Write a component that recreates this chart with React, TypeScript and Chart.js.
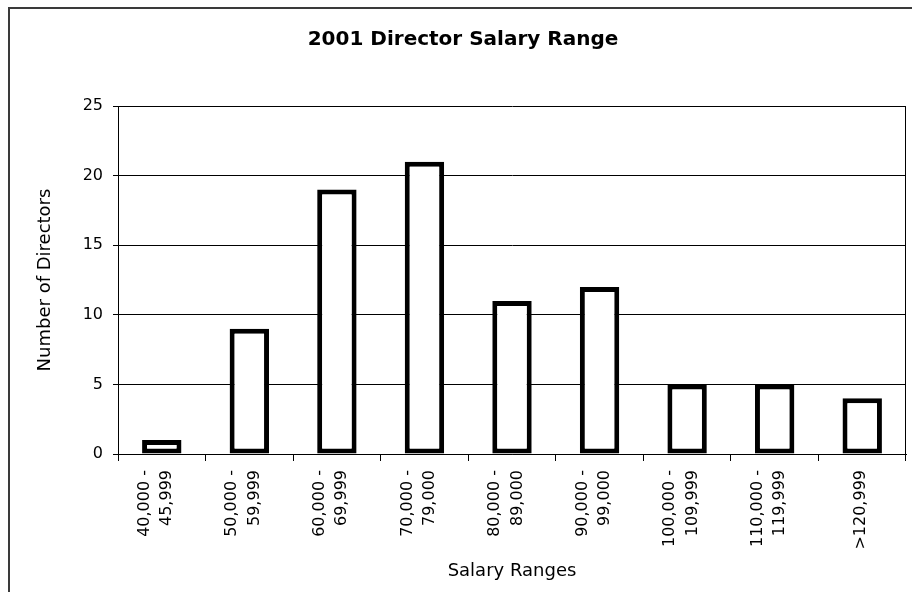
import React, { useEffect, useRef } from "react";
import { Chart, registerables } from "chart.js";

Chart.register(...registerables);

const chartTitle = "2001 Director Salary Range";
const xAxisTitle = "Salary Ranges";
const yAxisTitle = "Number of Directors";

const salaryRanges: string[][] = [
  ["40,000 -", "45,999"],
  ["50,000 -", "59,999"],
  ["60,000 -", "69,999"],
  ["70,000 -", "79,000"],
  ["80,000 -", "89,000"],
  ["90,000 -", "99,000"],
  ["100,000 -", "109,999"],
  ["110,000 -", "119,999"],
  ["", ">120,999"],
];

const directorCounts = [1, 9, 19, 21, 11, 12, 5, 5, 4];

const yMin = 0;
const yMax = 25;
const yStep = 5;

const FONT = "'DejaVu Sans', sans-serif";

export default function App() {
  const ref = useRef<HTMLCanvasElement>(null);

  useEffect(() => {
    const canvas = ref.current;
    if (!canvas) return;
    const chart = new Chart(canvas, {
      type: "bar",
      data: {
        labels: salaryRanges,
        datasets: [
          {
            data: directorCounts,
            backgroundColor: "#ffffff",
            borderColor: "#000000",
            borderWidth: 5,
            borderSkipped: false,
            categoryPercentage: 1,
            barPercentage: 0.45,
            inflateAmount: 0,
          },
        ],
      },
      options: {
        responsive: false,
        animation: false,
        devicePixelRatio: 1,
        layout: { padding: { left: 20, right: 6, top: 0, bottom: 0 } },
        plugins: {
          legend: { display: false },
          tooltip: { enabled: false },
          title: {
            display: true,
            text: chartTitle,
            color: "#000",
            font: { family: FONT, size: 20, weight: "bold", lineHeight: 1.2 },
            padding: { top: 28, bottom: 54 },
          },
        },
        scales: {
          x: {
            grid: {
              offset: true,
              drawOnChartArea: true,
              color: (c: any) => (c.type === "tick" ? "rgba(0,0,0,0)" : "#000"),
              tickColor: "#000",
              tickLength: 7,
              lineWidth: 1,
            },
            border: { color: "#000", width: 1 },
            ticks: {
              autoSkip: false,
              maxRotation: 90,
              minRotation: 90,
              padding: 9,
              color: "#000",
              labelOffset: -17,
              font: (c: any) => {
                const lab = salaryRanges[c.index];
                const single = lab && lab[0] === "";
                return { family: FONT, size: 16, lineHeight: single ? 0.95 : 1.4 };
              },
            },
            title: {
              display: true,
              text: xAxisTitle,
              color: "#000",
              font: { family: FONT, size: 18, lineHeight: 1.2 },
              padding: { top: 0, bottom: 10 },
            },
            afterFit: (s: any) => {
              s.height = 138;
            },
          },
          y: {
            min: yMin,
            max: yMax,
            ticks: {
              stepSize: yStep,
              padding: 10,
              color: "#000",
              font: { family: FONT, size: 16 },
            },
            grid: { color: "#000", tickColor: "#000", tickLength: 5, lineWidth: 1 },
            border: { color: "#000", width: 1 },
            title: {
              display: true,
              text: yAxisTitle,
              color: "#000",
              font: { family: FONT, size: 18, lineHeight: 1.2 },
              padding: { top: 15, bottom: 0 },
            },
            afterFit: (s: any) => {
              s.width = 98;
            },
          },
        },
      },
    });
    return () => chart.destroy();
  }, []);

  return (
    <div
      style={{
        position: "fixed",
        left: 0,
        top: 0,
        width: 912,
        height: 592,
        overflow: "hidden",
        background: "#ffffff",
      }}
    >
      <div
        style={{
          position: "absolute",
          left: 8,
          top: 7,
          width: 2000,
          height: 2000,
          borderLeft: "2px solid #3a3a3a",
          borderTop: "2px solid #3a3a3a",
        }}
      />
      <canvas
        ref={ref}
        width={912}
        height={592}
        style={{ position: "absolute", left: 0, top: 0 }}
      />
    </div>
  );
}
